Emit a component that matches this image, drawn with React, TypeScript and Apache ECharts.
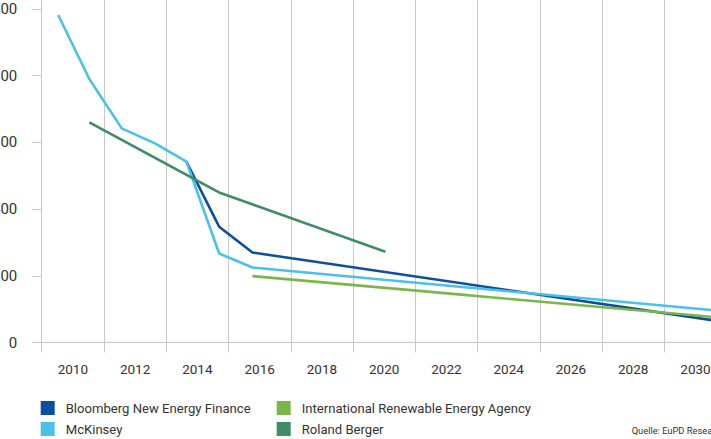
import React, { useEffect, useRef } from "react";
import * as echarts from "echarts";

// Battery cost projections (value axis 0..1000), x = year position
const bnefYears = [2013.65, 2014.7, 2015.77, 2030.75];
const bnefValues = [542, 347, 270, 64];
const mckinseyYears = [2009.53, 2010.53, 2011.57, 2012.64, 2013.65, 2014.7, 2015.77, 2030.75];
const mckinseyValues = [982, 790, 642, 597, 542, 267, 225, 95];
const irenaYears = [2015.77, 2030.75];
const irenaValues = [199, 75];
const rolandYears = [2010.53, 2014.7, 2020.04];
const rolandValues = [660, 450, 272];

const seriesNames = [
  "Bloomberg New Energy Finance",
  "McKinsey",
  "International Renewable Energy Agency",
  "Roland Berger",
];
const seriesColors = ["#0d4f9f", "#4bc0ea", "#7ab648", "#3e8d64"];
const sourceText = "Quelle: EuPD Research";

const zip = (xs: number[], ys: number[]) => xs.map((x, i) => [x, ys[i]]);

export default function App() {
  const ref = useRef<HTMLDivElement>(null);
  useEffect(() => {
    if (!ref.current) return;
    const chart = echarts.init(ref.current, undefined, { renderer: "svg" });
    const gray = "#c8c8c8";
    const font = "Roboto";
    const datasets = [
      zip(bnefYears, bnefValues),
      zip(mckinseyYears, mckinseyValues),
      zip(irenaYears, irenaValues),
      zip(rolandYears, rolandValues),
    ];
    const legendCommon = {
      orient: "vertical" as const,
      padding: 0,
      itemWidth: 14,
      itemHeight: 14,
      itemGap: 7,
      icon: "rect",
      selectedMode: false,
      textStyle: {
        fontFamily: font,
        fontSize: 13.1,
        color: "#333",
        padding: [0, 0, 0, 6],
      },
    };
    chart.setOption({
      animation: false,
      backgroundColor: "#fff",
      textStyle: { fontFamily: font },
      grid: { left: 81.7, right: 33.4, top: 12.3, bottom: 96.5, containLabel: false },
      xAxis: [
        {
          type: "value",
          min: 2009,
          max: 2031,
          interval: 2,
          axisLine: { show: true, lineStyle: { color: gray, width: 1 } },
          axisTick: { show: true, length: 10, lineStyle: { color: gray } },
          splitLine: { show: true, lineStyle: { color: gray, width: 1 } },
          axisLabel: { show: false },
        },
        {
          type: "value",
          position: "bottom",
          min: 2009,
          max: 2031,
          interval: 1,
          axisLine: { show: false },
          axisTick: { show: false },
          splitLine: { show: false },
          axisLabel: {
            show: true,
            margin: 19,
            fontFamily: font,
            fontSize: 13.5,
            color: "#333",
            formatter: (v: number) => (v % 2 === 0 ? String(v) : ""),
          },
        },
      ],
      yAxis: {
        type: "value",
        min: 0,
        max: 1050,
        interval: 200,
        axisLine: { show: true, lineStyle: { color: gray, width: 1 } },
        axisTick: { show: true, length: 9.5, lineStyle: { color: gray } },
        splitLine: { show: false },
        axisLabel: {
          margin: 24.4,
          fontFamily: font,
          fontSize: 15,
          color: "#333",
          showMaxLabel: false,
        },
      },
      legend: [
        { ...legendCommon, left: 80.7, top: 421, data: [seriesNames[0], seriesNames[1]] },
        { ...legendCommon, left: 316.7, top: 421, data: [seriesNames[2], seriesNames[3]] },
      ],
      series: seriesNames.map((name, i) => ({
        name,
        type: "line",
        xAxisIndex: 0,
        data: datasets[i],
        showSymbol: false,
        symbol: "none",
        color: seriesColors[i],
        lineStyle: { color: seriesColors[i], width: 2.6 },
      })),
      graphic: [
        {
          type: "text",
          left: 671.7,
          top: 446.3,
          style: { text: sourceText, fontFamily: font, fontSize: 9.3, fill: "#333" },
        },
      ],
    });
    return () => chart.dispose();
  }, []);
  return (
    <div
      ref={ref}
      style={{ position: "fixed", left: -40, top: -20, width: 800, height: 459 }}
    />
  );
}
